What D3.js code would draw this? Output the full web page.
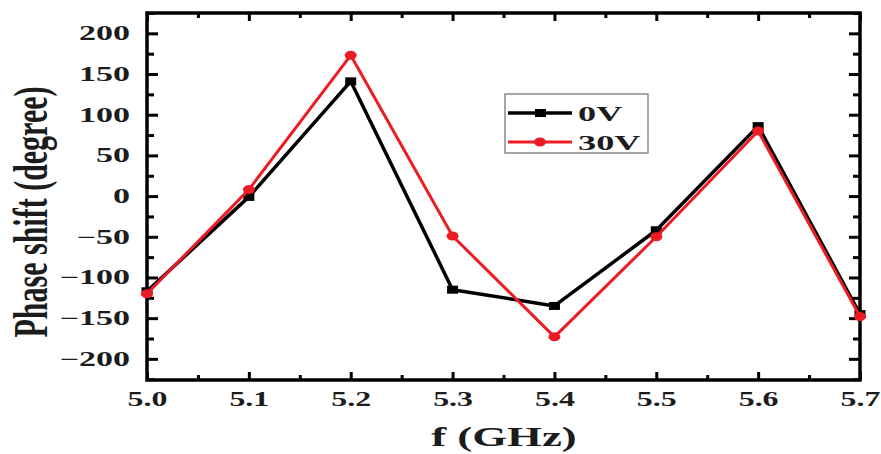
<!DOCTYPE html>
<html><head><meta charset="utf-8">
<script src="https://cdn.jsdelivr.net/npm/d3@7"></script>
<style>body{margin:0;background:#fff}</style>
</head><body>
<script>
const freqs = [5.0, 5.1, 5.2, 5.3, 5.4, 5.5, 5.6, 5.7];
const phase0V = [-117, -1, 141, -115, -135, -42, 86, -145];
const phase30V = [-120, 8, 173, -49, -173, -50, 80, -148];
const seriesNames = ["0V", "30V"];
const xTickValues = [5.0, 5.1, 5.2, 5.3, 5.4, 5.5, 5.6, 5.7];
const yTickValues = [-200, -150, -100, -50, 0, 50, 100, 150, 200];
const xTitle = "f (GHz)";
const yTitle = "Phase shift (degree)";

const W = 881, H = 454;
const m = {left:147, right:860, top:13, bottom:380};
const FONT = "'Liberation Serif','Times New Roman',serif";
const TXT = "#1c1c1c";
const RED = "#ec1c24";

const svg = d3.select("body").append("svg").attr("width", W).attr("height", H)
  .style("font-family", FONT).style("font-weight", "bold");

const x = d3.scaleLinear().domain([5.0, 5.7]).range([m.left, m.right]);
const y = d3.scaleLinear().domain([-226, 225]).range([m.bottom, m.top]);

const xMinor = d3.range(5.05, 5.7, 0.1).map(v => +v.toFixed(2));
const yMinor = d3.range(-225, 226, 50);

function styleAxis(g){
  g.attr("font-family", null).attr("font-size", null);
  g.select(".domain").remove();
  g.selectAll("line").attr("stroke", "#000").attr("stroke-width", 3);
}
// minor ticks
svg.append("g").attr("transform", `translate(0,${m.bottom})`)
  .call(d3.axisBottom(x).tickValues(xMinor).tickSize(-5).tickFormat("")).call(styleAxis);
svg.append("g").attr("transform", `translate(0,${m.top})`)
  .call(d3.axisTop(x).tickValues(xMinor).tickSize(-5).tickFormat("")).call(styleAxis);
svg.append("g").attr("transform", `translate(${m.left},0)`)
  .call(d3.axisLeft(y).tickValues(yMinor).tickSize(-7).tickFormat("")).call(styleAxis);
svg.append("g").attr("transform", `translate(${m.right},0)`)
  .call(d3.axisRight(y).tickValues(yMinor).tickSize(-7).tickFormat("")).call(styleAxis);

// major ticks
const xAx = svg.append("g").attr("transform", `translate(0,${m.bottom})`)
  .call(d3.axisBottom(x).tickValues(xTickValues).tickSize(-8).tickPadding(10).tickFormat(d3.format(".1f")))
  .call(styleAxis);
xAx.selectAll("text").attr("fill", TXT).style("font-family", FONT).style("font-size", "22px")
  .attr("transform", "scale(1.45,1)");
svg.append("g").attr("transform", `translate(0,${m.top})`)
  .call(d3.axisTop(x).tickValues(xTickValues).tickSize(-8).tickFormat("")).call(styleAxis);
const yAx = svg.append("g").attr("transform", `translate(${m.left},0)`)
  .call(d3.axisLeft(y).tickValues(yTickValues).tickSize(-11).tickFormat(d3.format("d")))
  .call(styleAxis);
yAx.selectAll("text").attr("fill", TXT).style("font-family", FONT).style("font-size", "20px")
  .attr("x", -17/1.7).attr("transform", "scale(1.7,1)");
svg.append("g").attr("transform", `translate(${m.right},0)`)
  .call(d3.axisRight(y).tickValues(yTickValues).tickSize(-11).tickFormat("")).call(styleAxis);

// frame
svg.append("rect").attr("x", m.left).attr("y", m.top)
  .attr("width", m.right - m.left).attr("height", m.bottom - m.top)
  .attr("fill", "none").attr("stroke", "#000").attr("stroke-width", 3.5);

// lines
const line = d3.line().x(d => x(d[0])).y(d => y(d[1]));
const d0 = freqs.map((f,i) => [f, phase0V[i]]);
const d30 = freqs.map((f,i) => [f, phase30V[i]]);
svg.append("path").datum(d0).attr("d", line).attr("fill", "none")
  .attr("stroke", "#000").attr("stroke-width", 3.5).attr("stroke-linejoin", "round");
svg.selectAll(".sq").data(d0).enter().append("rect")
  .attr("x", d => x(d[0]) - 5.5).attr("y", d => y(d[1]) - 4)
  .attr("width", 11).attr("height", 8).attr("fill", "#000");
svg.append("path").datum(d30).attr("d", line).attr("fill", "none")
  .attr("stroke", RED).attr("stroke-width", 3).attr("stroke-linejoin", "round");
svg.selectAll(".ci").data(d30).enter().append("ellipse")
  .attr("cx", d => x(d[0])).attr("cy", d => y(d[1]))
  .attr("rx", 6).attr("ry", 4.5).attr("fill", RED);

// legend
const lg = svg.append("g");
lg.append("rect").attr("x", 505).attr("y", 94).attr("width", 143).attr("height", 59)
  .attr("fill", "#fff").attr("stroke", "#8a8a8a").attr("stroke-width", 1.5);
const legCols = ["#000", RED];
seriesNames.forEach((n, i) => {
  const ly = 113 + i * 29;
  lg.append("line").attr("x1", 508).attr("x2", 572).attr("y1", ly).attr("y2", ly)
    .attr("stroke", legCols[i]).attr("stroke-width", i ? 3 : 3.5);
  if (i === 0) lg.append("rect").attr("x", 535).attr("y", ly - 4).attr("width", 11).attr("height", 8).attr("fill", "#000");
  else lg.append("ellipse").attr("cx", 540).attr("cy", ly).attr("rx", 6).attr("ry", 4.5).attr("fill", RED);
  lg.append("text").attr("transform", `translate(578,${ly + 8}) scale(1.65,1)`)
    .attr("fill", TXT).style("font-size", "22px").text(n);
});

// titles
svg.append("text").attr("transform", `translate(504,446) scale(1.6,1)`)
  .attr("text-anchor", "middle").attr("fill", TXT).style("font-size", "28px").text(xTitle);
svg.append("text").attr("transform", `translate(47,212) rotate(-90) scale(1,1.6)`)
  .attr("text-anchor", "middle").attr("fill", TXT).style("font-size", "30px").text(yTitle);
</script>
</body></html>
